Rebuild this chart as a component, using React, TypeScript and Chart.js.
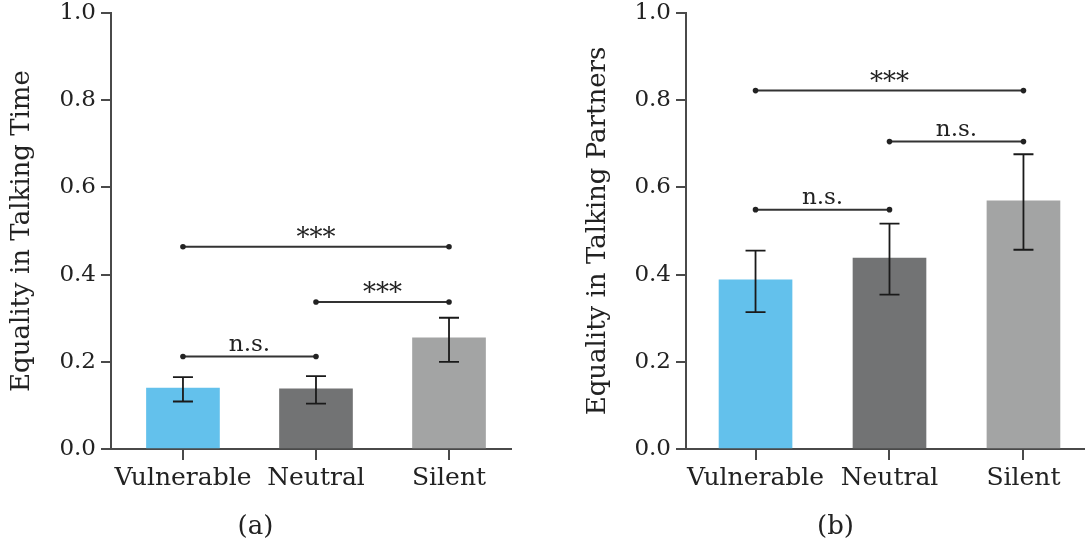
import React, { useEffect, useRef } from 'react';
import { Chart, registerables } from 'chart.js';

Chart.register(...registerables);

// ---------- data ----------
const categories = ['Vulnerable', 'Neutral', 'Silent'];
const yTickValues = [0, 0.2, 0.4, 0.6, 0.8, 1.0];

// Panel (a): Equality in Talking Time
const timeMeans = [0.140, 0.138, 0.255];
const timeErrLow = [0.109, 0.104, 0.200];
const timeErrHigh = [0.165, 0.167, 0.301];
const timeBracketFrom = [0, 1, 0];
const timeBracketTo = [2, 2, 1];
const timeBracketY = [0.464, 0.337, 0.212];
const timeBracketLabel = ['***', '***', 'n.s.'];

// Panel (b): Equality in Talking Partners
const partnerMeans = [0.388, 0.438, 0.569];
const partnerErrLow = [0.314, 0.354, 0.457];
const partnerErrHigh = [0.455, 0.517, 0.676];
const partnerBracketFrom = [0, 1, 0];
const partnerBracketTo = [2, 2, 1];
const partnerBracketY = [0.822, 0.705, 0.549];
const partnerBracketLabel = ['***', 'n.s.', 'n.s.'];

// ---------- style ----------
const FONT = "'DejaVu Serif', 'Liberation Serif', serif";
const TEXT = '#222222';
const AXIS = '#4a4a4a';
const barColors = ['#63c1ec', '#727374', '#a3a4a4'];

type PanelProps = {
  left: number;
  width: number;
  yAxisWidth: number;
  padRight: number;
  xMin: number;
  xMax: number;
  title: string;
  caption: string;
  means: number[];
  low: number[];
  high: number[];
  bFrom: number[];
  bTo: number[];
  bY: number[];
  bLabel: string[];
};

function Panel(p: PanelProps) {
  const ref = useRef<HTMLCanvasElement | null>(null);
  useEffect(() => {
    if (!ref.current) return;
    const annot = {
      id: 'annot',
      afterDatasetsDraw(chart: any) {
        const { ctx } = chart;
        const x = chart.scales.x;
        const y = chart.scales.y;
        ctx.save();
        // error bars
        ctx.strokeStyle = '#1a1a1a';
        ctx.lineWidth = 1.8;
        p.low.forEach((lo, i) => {
          const px = x.getPixelForValue(i);
          const pl = y.getPixelForValue(lo);
          const ph = y.getPixelForValue(p.high[i]);
          ctx.beginPath();
          ctx.moveTo(px, pl);
          ctx.lineTo(px, ph);
          ctx.moveTo(px - 10, pl);
          ctx.lineTo(px + 10, pl);
          ctx.moveTo(px - 10, ph);
          ctx.lineTo(px + 10, ph);
          ctx.stroke();
        });
        // significance brackets
        p.bY.forEach((v, i) => {
          const x1 = x.getPixelForValue(p.bFrom[i]);
          const x2 = x.getPixelForValue(p.bTo[i]);
          const py = y.getPixelForValue(v);
          ctx.strokeStyle = '#333333';
          ctx.lineWidth = 2;
          ctx.beginPath();
          ctx.moveTo(x1, py);
          ctx.lineTo(x2, py);
          ctx.stroke();
          ctx.fillStyle = '#222222';
          [x1, x2].forEach((xx) => {
            ctx.beginPath();
            ctx.arc(xx, py, 2.8, 0, Math.PI * 2);
            ctx.fill();
          });
          const lbl = p.bLabel[i];
          const stars = lbl.indexOf('*') >= 0;
          ctx.fillStyle = TEXT;
          ctx.textAlign = 'center';
          ctx.textBaseline = 'alphabetic';
          ctx.font = `${stars ? 26 : 23}px ${FONT}`;
          ctx.fillText(lbl, (x1 + x2) / 2, py - (stars ? 1 : 6));
        });
        ctx.restore();
      },
    };

    const chart = new Chart(ref.current, {
      type: 'bar',
      data: {
        datasets: [
          {
            data: p.means.map((m, i) => ({ x: i, y: m })),
            backgroundColor: barColors,
            borderWidth: 0,
            barThickness: 73,
          },
        ],
      },
      options: {
        animation: false,
        responsive: false,
        devicePixelRatio: 1,
        layout: { padding: { top: 13, bottom: 5.4, left: 0, right: p.padRight } },
        plugins: {
          legend: { display: false },
          tooltip: { enabled: false },
          title: {
            display: true,
            position: 'bottom',
            text: p.caption,
            color: TEXT,
            font: { family: FONT, size: 26, weight: 'normal' },
            padding: { top: 7.4, bottom: 0 },
          },
        },
        scales: {
          x: {
            type: 'linear',
            min: p.xMin,
            max: p.xMax,
            offset: false,
            afterBuildTicks: (s: any) => {
              s.ticks = categories.map((_, i) => ({ value: i }));
            },
            ticks: {
              callback: (v: any) => categories[v] ?? '',
              font: { family: FONT, size: 25 },
              color: TEXT,
              padding: 3,
              maxRotation: 0,
              autoSkip: false,
            },
            grid: {
              offset: false,
              drawOnChartArea: false,
              drawTicks: true,
              tickLength: 11,
              color: AXIS,
              lineWidth: 2,
            },
            border: { display: true, color: AXIS, width: 2 },
            afterFit: (s: any) => {
              s.height = 55;
              s.paddingLeft = 0;
              s.paddingRight = 0;
            },
          },
          y: {
            min: 0,
            max: 1,
            afterBuildTicks: (s: any) => {
              s.ticks = yTickValues.map((v) => ({ value: v }));
            },
            ticks: {
              callback: (v: any) => Number(v).toFixed(1),
              font: { family: FONT, size: 23 },
              color: TEXT,
              padding: 5,
            },
            grid: {
              drawOnChartArea: false,
              drawTicks: true,
              tickLength: 10,
              color: AXIS,
              lineWidth: 2,
            },
            border: { display: true, color: AXIS, width: 2 },
            title: {
              display: true,
              text: p.title,
              color: TEXT,
              font: { family: FONT, size: 26 },
              padding: { top: 6.4, bottom: 0 },
            },
            afterFit: (s: any) => {
              s.width = p.yAxisWidth;
              s.paddingTop = 0;
              s.paddingBottom = 0;
            },
          },
        },
      } as any,
      plugins: [annot],
    });
    return () => chart.destroy();
  }, []);

  return (
    <canvas
      ref={ref}
      width={p.width}
      height={548}
      style={{ position: 'absolute', left: p.left, top: 0, width: p.width, height: 548 }}
    />
  );
}

export default function App() {
  return (
    <div
      style={{
        position: 'absolute',
        left: 0,
        top: 0,
        width: 1085,
        height: 548,
        overflow: 'hidden',
        background: '#ffffff',
      }}
    >
      <Panel
        left={0}
        width={516}
        yAxisWidth={111}
        padRight={5}
        xMin={-0.541}
        xMax={2.466}
        title="Equality in Talking Time"
        caption="(a)"
        means={timeMeans}
        low={timeErrLow}
        high={timeErrHigh}
        bFrom={timeBracketFrom}
        bTo={timeBracketTo}
        bY={timeBracketY}
        bLabel={timeBracketLabel}
      />
      <Panel
        left={576}
        width={519}
        yAxisWidth={110}
        padRight={0}
        xMin={-0.519}
        xMax={2.534}
        title="Equality in Talking Partners"
        caption="(b)"
        means={partnerMeans}
        low={partnerErrLow}
        high={partnerErrHigh}
        bFrom={partnerBracketFrom}
        bTo={partnerBracketTo}
        bY={partnerBracketY}
        bLabel={partnerBracketLabel}
      />
    </div>
  );
}
